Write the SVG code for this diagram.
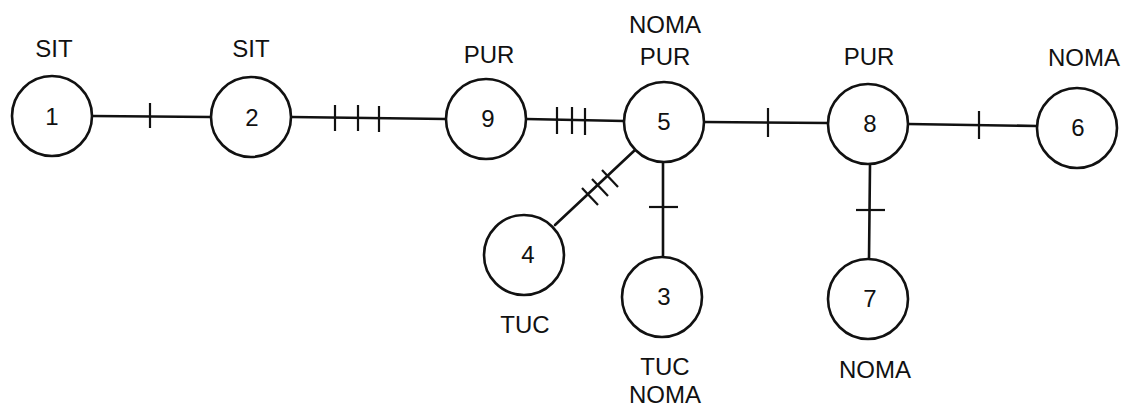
<svg xmlns="http://www.w3.org/2000/svg" width="1124" height="409" viewBox="0 0 1124 409">
<style>
.n{fill:#fff;stroke:#111;stroke-width:2.6}
.e{stroke:#111;stroke-width:2.6;fill:none;stroke-linecap:round}
.t{stroke:#111;stroke-width:2.2;fill:none}
text{font-family:"Liberation Sans",Arial,sans-serif;font-size:24px;fill:#111;text-anchor:middle}
</style>
<rect width="1124" height="409" fill="#fff"/>
<g id="connectors">
<line class="e" x1="92" y1="116" x2="211" y2="117"/>
<line class="t" x1="150" y1="103" x2="150" y2="128"/>
<line class="e" x1="291" y1="117" x2="446" y2="119"/>
<line class="t" x1="335" y1="105" x2="335" y2="131"/>
<line class="t" x1="358" y1="105" x2="358" y2="131"/>
<line class="t" x1="379" y1="106" x2="379" y2="132"/>
<line class="e" x1="526" y1="119" x2="624" y2="121"/>
<line class="t" x1="557" y1="107" x2="557" y2="134"/>
<line class="t" x1="572" y1="107" x2="572" y2="134"/>
<line class="t" x1="585" y1="108" x2="585" y2="135"/>
<line class="e" x1="704" y1="122" x2="828" y2="123"/>
<line class="t" x1="768" y1="108" x2="768" y2="137"/>
<line class="e" x1="908" y1="124" x2="1037" y2="126"/>
<line class="t" x1="979" y1="111" x2="979" y2="139"/>
<line class="e" x1="870" y1="165" x2="869" y2="259"/>
<line class="t" x1="856" y1="210" x2="885" y2="210"/>
<line class="e" x1="663" y1="162" x2="663" y2="257"/>
<line class="t" x1="649" y1="207" x2="678" y2="207"/>
<line class="e" x1="635" y1="150" x2="555" y2="225"/>
<line class="t" x1="582" y1="188" x2="598" y2="205"/>
<line class="t" x1="592" y1="179" x2="608" y2="196"/>
<line class="t" x1="602" y1="170" x2="618" y2="187"/>
</g>
<g id="node1"><circle class="n" cx="52" cy="116" r="40"/><text x="52" y="125">1</text><text x="54" y="57">SIT</text></g>
<g id="node2"><circle class="n" cx="251" cy="117" r="40"/><text x="252" y="126">2</text><text x="251" y="57">SIT</text></g>
<g id="node9"><circle class="n" cx="486" cy="119" r="40"/><text x="488" y="127">9</text><text x="489" y="63">PUR</text></g>
<g id="node5"><circle class="n" cx="664" cy="122" r="40"/><text x="664" y="130">5</text><text x="665" y="33">NOMA</text><text x="665" y="65">PUR</text></g>
<g id="node8"><circle class="n" cx="868" cy="124" r="40"/><text x="870" y="132">8</text><text x="869" y="65">PUR</text></g>
<g id="node6"><circle class="n" cx="1077" cy="128" r="40"/><text x="1078" y="136">6</text><text x="1084" y="66">NOMA</text></g>
<g id="node4"><circle class="n" cx="524" cy="255" r="40"/><text x="528" y="263">4</text><text x="525" y="333">TUC</text></g>
<g id="node3"><circle class="n" cx="662" cy="297" r="40"/><text x="664" y="305">3</text><text x="665" y="375">TUC</text><text x="665" y="403">NOMA</text></g>
<g id="node7"><circle class="n" cx="868" cy="299" r="40"/><text x="870" y="307">7</text><text x="875" y="378">NOMA</text></g>
</svg>
